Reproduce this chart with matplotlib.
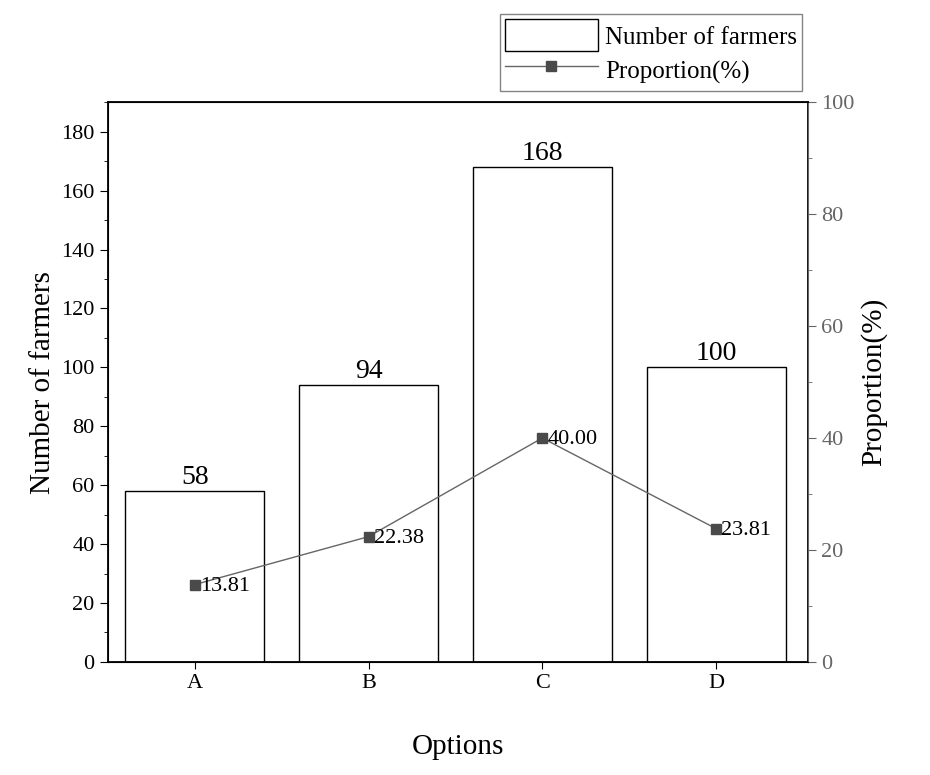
import numpy as np
import matplotlib.pyplot as plt
from matplotlib.ticker import MultipleLocator

plt.rcParams['font.family'] = ['Liberation Serif', 'DejaVu Serif']

options = ["A", "B", "C", "D"]
farmers = [58, 94, 168, 100]
proportion = [13.81, 22.38, 40.00, 23.81]

fig = plt.figure(figsize=(9.3, 7.75), dpi=100)
ax = fig.add_axes([0.116, 0.146, 0.753, 0.722])
x = np.arange(len(options))

bars = ax.bar(x, farmers, width=0.8, facecolor="white", edgecolor="black",
              linewidth=1.0, label="Number of farmers")
for xi, v in zip(x, farmers):
    ax.text(xi, v + 0.5, str(v), ha="center", va="bottom", fontsize=20)

ax.set_xlim(-0.5, 3.53)
ax.set_ylim(0, 190)
ax.set_xticks(x)
ax.set_xticklabels(options)
ax.yaxis.set_major_locator(MultipleLocator(20))
ax.yaxis.set_minor_locator(MultipleLocator(10))
ax.tick_params(labelsize=16)
ax.tick_params(axis="x", length=5)
ax.tick_params(axis="y", which="major", length=6)
ax.tick_params(axis="y", which="minor", length=3)
ax.set_xlabel("Options", fontsize=21, labelpad=30)
ax.set_ylabel("Number of farmers", fontsize=21)
for s in ax.spines.values():
    s.set_linewidth(1.3)

ax2 = ax.twinx()
line, = ax2.plot(x, proportion, color="#666666", linewidth=1.0, marker="s",
                 markersize=7, markerfacecolor="#4a4a4a", markeredgecolor="#4a4a4a",
                 label="Proportion(%)")
for xi, v in zip(x, proportion):
    ax2.text(xi + 0.03, v - 0.3, f"{v:.2f}", ha="left", va="center", fontsize=16)
ax2.set_ylim(0, 100)
ax2.yaxis.set_major_locator(MultipleLocator(20))
ax2.yaxis.set_minor_locator(MultipleLocator(10))
ax2.tick_params(axis="y", which="major", length=6, labelsize=16,
                labelcolor="#666666", color="#666666")
ax2.tick_params(axis="y", which="minor", length=3, color="#666666")
ax2.spines["right"].set_color("#666666")
ax2.set_ylabel("Proportion(%)", fontsize=21)

leg = fig.legend([bars, line], ["Number of farmers", "Proportion(%)"],
                 loc="upper right", bbox_to_anchor=(0.868, 0.988), fontsize=18,
                 frameon=True, fancybox=False, edgecolor="#666666",
                 handlelength=3.7, handleheight=1.6, handletextpad=0.3,
                 borderpad=0.2, labelspacing=0.1, borderaxespad=0.2)
leg.get_frame().set_linewidth(1.0)

fig.savefig("out.png", dpi=100)
